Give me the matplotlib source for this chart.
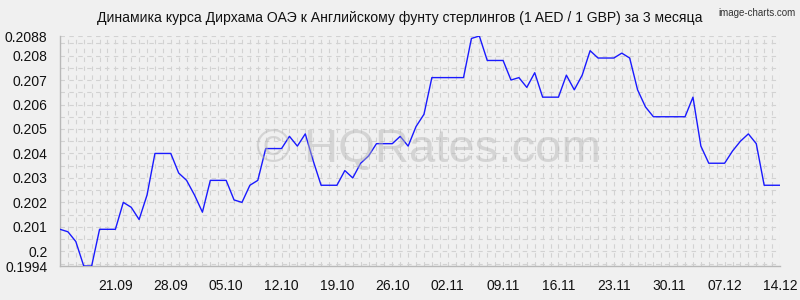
import matplotlib
matplotlib.use("Agg")
import matplotlib.pyplot as plt
import matplotlib.dates as mdates
import numpy as np
import pandas as pd

plt.rcParams['font.family'] = ['Liberation Sans', 'DejaVu Sans']

# Курс AED/GBP по дням, 14.09.2025 - 14.12.2025
dates = pd.date_range('2025-09-14', '2025-12-14', freq='D')
rates = [
    0.2009, 0.2008, 0.2004, 0.1994, 0.1994, 0.2009, 0.2009, 0.2009,
    0.2020, 0.2018, 0.2013, 0.2023, 0.2040, 0.2040, 0.2040, 0.2032,
    0.2029, 0.2023, 0.2016, 0.2029, 0.2029, 0.2029, 0.2021, 0.2020,
    0.2027, 0.2029, 0.2042, 0.2042, 0.2042, 0.2047, 0.2043, 0.2048,
    0.2037, 0.2027, 0.2027, 0.2027, 0.2033, 0.2030, 0.2036, 0.2039,
    0.2044, 0.2044, 0.2044, 0.2047, 0.2043, 0.2051, 0.2056, 0.2071,
    0.2071, 0.2071, 0.2071, 0.2071, 0.2087, 0.2088, 0.2078, 0.2078,
    0.2078, 0.2070, 0.2071, 0.2067, 0.2073, 0.2063, 0.2063, 0.2063,
    0.2072, 0.2066, 0.2072, 0.2082, 0.2079, 0.2079, 0.2079, 0.2081,
    0.2079, 0.2066, 0.2059, 0.2055, 0.2055, 0.2055, 0.2055, 0.2055,
    0.2063, 0.2043, 0.2036, 0.2036, 0.2036, 0.2041, 0.2045, 0.2048,
    0.2044, 0.2027, 0.2027, 0.2027,
]

# подписи оси X - раз в неделю
x_ticks = pd.date_range('2025-09-21', '2025-12-14', freq='7D')

y_ticks = [0.1994, 0.2, 0.201, 0.202, 0.203, 0.204, 0.205, 0.206, 0.207, 0.208, 0.2088]
y_labels = ['0.1994', '0.2', '0.201', '0.202', '0.203', '0.204', '0.205',
            '0.206', '0.207', '0.208', '0.2088']

bg = '#f0f0f0'
fig = plt.figure(figsize=(8, 3), dpi=100, facecolor=bg)
ax = fig.add_axes([0.075, 0.1133, 0.9, 0.7667], facecolor=bg)

ax.plot(dates, rates, color='#1a1aff', linewidth=1.0, zorder=3)

ax.set_xlim(dates[0], dates[-1])
ax.set_ylim(0.1994, 0.2088)

# сетка: по дням и через 0.0005
ax.set_yticks(y_ticks)
ax.set_yticklabels(y_labels)
ax.set_yticks(np.arange(0.1995, 0.2088, 0.0005), minor=True)
ax.set_xticks(x_ticks)
ax.xaxis.set_major_formatter(mdates.DateFormatter('%d.%m'))
ax.xaxis.set_minor_locator(mdates.DayLocator())
ax.grid(True, which='both', color='#d2d2d2', linestyle=(0, (4, 4)), linewidth=0.8, zorder=0)

ax.tick_params(axis='both', which='both', length=0, labelsize=10, colors='#111111')
ax.tick_params(axis='y', pad=9)
ax.tick_params(axis='x', pad=9)

for s in ['top', 'right']:
    ax.spines[s].set_visible(False)
for s in ['left', 'bottom']:
    ax.spines[s].set_color('#b8b8b8')
    ax.spines[s].set_linewidth(1.0)

fig.text(0.5, 0.94, 'Динамика курса Дирхама ОАЭ к Английскому фунту стерлингов (1 AED / 1 GBP) за 3 месяца',
         ha='center', va='center', fontsize=10.1, color='#111111')
fig.text(0.995, 0.975, 'image-charts.com', ha='right', va='top', fontsize=7, color='#333333')
fig.text(0.535, 0.5, '© HQRates.com', ha='center', va='center', fontsize=34,
         color='#b4b4b4', alpha=0.45, zorder=1)

fig.savefig('out.png', dpi=100, facecolor=bg)
